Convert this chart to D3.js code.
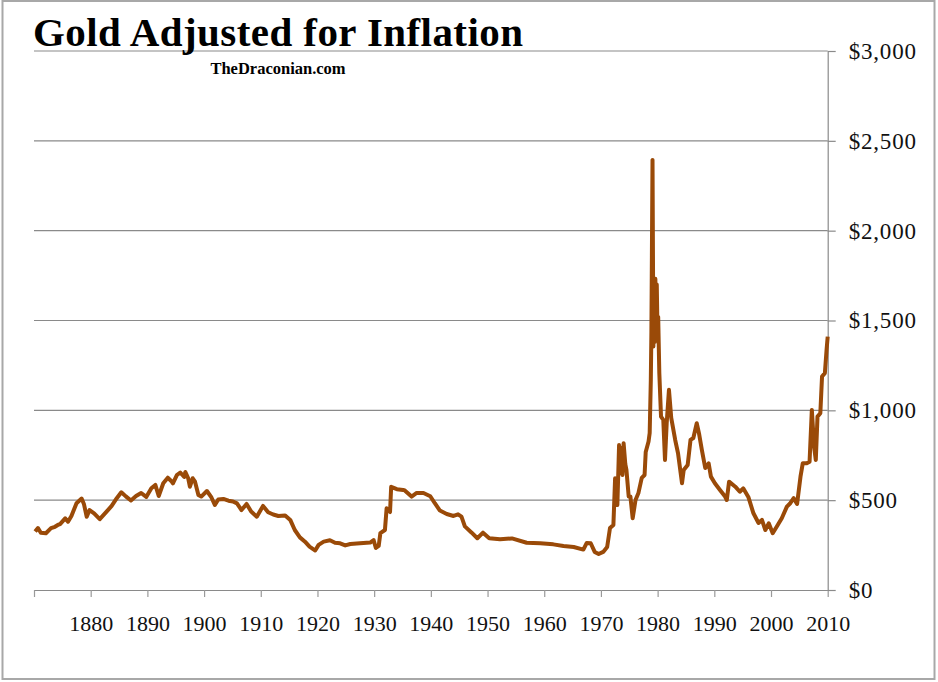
<!DOCTYPE html>
<html>
<head>
<meta charset="utf-8">
<style>
  body { margin: 0; background: #fff; }
  svg text { font-family: "Liberation Serif", "DejaVu Serif", serif; }
</style>
</head>
<body>
<div id="chart"></div>
<script src="https://cdnjs.cloudflare.com/ajax/libs/d3/7.8.5/d3.min.js"></script>
<script>
// gold price in today's dollars
var years = [1870.2, 1870.7, 1871.2, 1872.1, 1873.0, 1873.7, 1874.2, 1874.6, 1875.5, 1876.0,
  1876.6, 1877.5, 1878.4, 1878.8, 1879.3, 1879.8, 1880.6, 1881.6, 1882.8, 1883.7,
  1884.6, 1885.4, 1886.2, 1887.1, 1888.0, 1888.9, 1889.8, 1890.7, 1891.4, 1892.0,
  1892.8, 1893.6, 1894.2, 1894.5, 1895.2, 1895.8, 1896.5, 1896.7, 1897.2, 1897.5,
  1898.0, 1898.4, 1899.0, 1899.5, 1900.5, 1901.3, 1901.9, 1902.5, 1903.4, 1904.3,
  1905.1, 1905.8, 1906.6, 1907.5, 1908.3, 1909.3, 1910.4, 1911.3, 1912.2, 1913.1,
  1914.3, 1915.2, 1916.0, 1916.9, 1917.8, 1918.6, 1919.3, 1919.6, 1920.2, 1921.1,
  1922.2, 1923.1, 1924.0, 1924.9, 1925.8, 1927.5, 1929.3, 1929.9, 1930.3, 1930.8,
  1931.1, 1931.9, 1932.2, 1932.8, 1933.0, 1934.0, 1935.1, 1935.4, 1936.6, 1937.5,
  1938.7, 1939.9, 1940.7, 1941.6, 1942.8, 1944.0, 1944.8, 1945.4, 1946.0, 1947.2,
  1948.2, 1949.2, 1950.3, 1952.2, 1954.3, 1956.9, 1959.3, 1961.6, 1963.4, 1965.2,
  1966.9, 1967.5, 1968.2, 1968.9, 1969.6, 1970.4, 1971.1, 1971.6, 1972.2, 1972.5,
  1972.9, 1973.2, 1973.4, 1973.6, 1973.8, 1974.0, 1974.3, 1974.5, 1974.9, 1975.2,
  1975.6, 1976.1, 1976.6, 1977.2, 1977.7, 1977.9, 1978.4, 1978.6, 1978.8, 1978.9,
  1979.1, 1979.25, 1979.4, 1979.5, 1979.6, 1979.75, 1979.85, 1980.0, 1980.1, 1980.3,
  1980.6, 1981.0, 1981.3, 1981.6, 1982.0, 1982.4, 1983.1, 1983.6,
  1984.3, 1984.6, 1985.3, 1985.8, 1986.3, 1986.9, 1987.3, 1987.8, 1988.4, 1989.0,
  1989.4, 1990.1, 1991.0, 1991.9, 1992.2, 1992.6, 1993.7, 1994.5, 1995.1, 1996.0,
  1996.9, 1997.8, 1998.4, 1999.0, 1999.6, 2000.3, 2001.0, 2001.9, 2002.8, 2003.4,
  2004.0, 2004.6, 2005.2, 2005.6, 2006.3, 2006.8, 2007.2, 2007.6, 2007.9, 2008.2,
  2008.7, 2009.0, 2009.5, 2009.8, 2010.0];
var values = [325, 345, 319, 316, 344, 352, 362, 367, 399, 380,
  412, 483, 509, 479, 408, 445, 427, 394, 436, 468,
  511, 544, 521, 498, 523, 540, 518, 566, 585, 523,
  594, 625, 607, 594, 640, 654, 629, 657, 622, 575,
  622, 603, 529, 520, 551, 515, 473, 504, 507, 497,
  493, 482, 445, 479, 437, 408, 468, 433, 420, 412,
  415, 390, 334, 293, 269, 241, 226, 220, 251, 269,
  277, 263, 260, 248, 256, 260, 264, 278, 234, 245,
  317, 334, 455, 434, 574, 561, 557, 554, 520, 540,
  540, 522, 483, 442, 423, 412, 421, 408, 354, 319,
  288, 319, 288, 282, 287, 263, 260, 254, 245, 239,
  225, 262, 260, 212, 200, 212, 239, 345, 362, 622,
  473, 807, 650, 790, 640, 817, 700, 668, 520, 520,
  399, 501, 538, 624, 640, 768, 826, 874, 1169, 1431,
  2394, 1355, 1650, 1380, 1732, 1480, 1700, 1392, 1520, 1207,
  965, 947, 724, 928, 1114, 958, 835, 761,
  594, 668, 696, 835, 846, 928, 872, 780, 679, 705,
  631, 594, 557, 520, 501, 603, 575, 547, 566, 518,
  427, 373, 390, 334, 371, 316, 352, 399, 464, 483,
  511, 479, 631, 705, 705, 714, 1002, 798, 724, 965,
  984, 1188, 1207, 1336, 1410];

var yearTicks = [1870, 1880, 1890, 1900, 1910, 1920, 1930, 1940, 1950, 1960, 1970, 1980, 1990, 2000, 2010];
var priceTicks = [0, 500, 1000, 1500, 2000, 2500, 3000];

var W = 938, H = 682;
var plotL = 34, plotR = 827.7, plotT = 51, plotB = 590;

var svg = d3.select("#chart").append("svg")
  .attr("width", W)
  .attr("height", H);

// frame round the picture
svg.append("rect")
  .attr("x", 2.5).attr("y", 1)
  .attr("width", 932).attr("height", 678)
  .style("fill", "none")
  .style("stroke", "#a8a8a8")
  .style("stroke-width", 2);

var x = d3.scaleLinear().domain([1870, 2010]).range([plotL, plotR]);
var y = d3.scaleLinear().domain([0, 3000]).range([plotB, plotT]);

// horizontal grid
svg.append("g").selectAll("line")
  .data(priceTicks.slice(1))
  .enter().append("line")
  .attr("x1", plotL).attr("x2", plotR)
  .attr("y1", function(d) { return y(d); })
  .attr("y2", function(d) { return y(d); })
  .style("stroke", "#8a8a8a")
  .style("stroke-width", 1.2);

// x axis
var xAxis = svg.append("g")
  .attr("transform", "translate(0," + plotB + ")")
  .call(d3.axisBottom(x).tickValues(yearTicks).tickSize(7).tickSizeOuter(0).tickPadding(18)
    .tickFormat(function(d) { return d == 1870 ? "" : d; }));
xAxis.select(".domain").style("stroke", "#8a8a8a").style("stroke-width", 1.2);
xAxis.selectAll(".tick line").style("stroke", "#9a9a9a").style("stroke-width", 1.2);
xAxis.selectAll("text")
  .style("font-family", "Liberation Serif")
  .style("font-size", "22px")
  .style("fill", "#111");

// y axis on the right
var yAxis = svg.append("g")
  .attr("transform", "translate(" + plotR + ",0)")
  .call(d3.axisRight(y).tickValues(priceTicks).tickSize(8).tickSizeOuter(0).tickPadding(13)
    .tickFormat(function(d) { return "$" + d3.format(",")(d); }));
yAxis.select(".domain").style("stroke", "#8a8a8a").style("stroke-width", 1.2);
yAxis.selectAll(".tick line").style("stroke", "#8a8a8a").style("stroke-width", 1.2);
yAxis.selectAll("text")
  .style("font-family", "Liberation Serif")
  .style("font-size", "23px")
  .style("letter-spacing", "0.8px")
  .style("fill", "#111");

// the price line
var line = d3.line()
  .x(function(d, i) { return x(years[i]); })
  .y(function(d) { return y(d); });

svg.append("path")
  .datum(values)
  .attr("d", line)
  .style("fill", "none")
  .style("stroke", "#9a4a08")
  .style("stroke-width", 4)
  .style("stroke-linejoin", "round");

// title
svg.append("text")
  .text("Gold Adjusted for Inflation")
  .attr("x", 33)
  .attr("y", 46)
  .attr("textLength", 490)
  .style("font-weight", "bold")
  .style("font-size", "41px")
  .style("fill", "#000");

svg.append("text")
  .text("TheDraconian.com")
  .attr("x", 278)
  .attr("y", 74)
  .style("text-anchor", "middle")
  .style("font-weight", "bold")
  .style("font-size", "16.5px")
  .style("fill", "#000");
</script>
</body>
</html>
